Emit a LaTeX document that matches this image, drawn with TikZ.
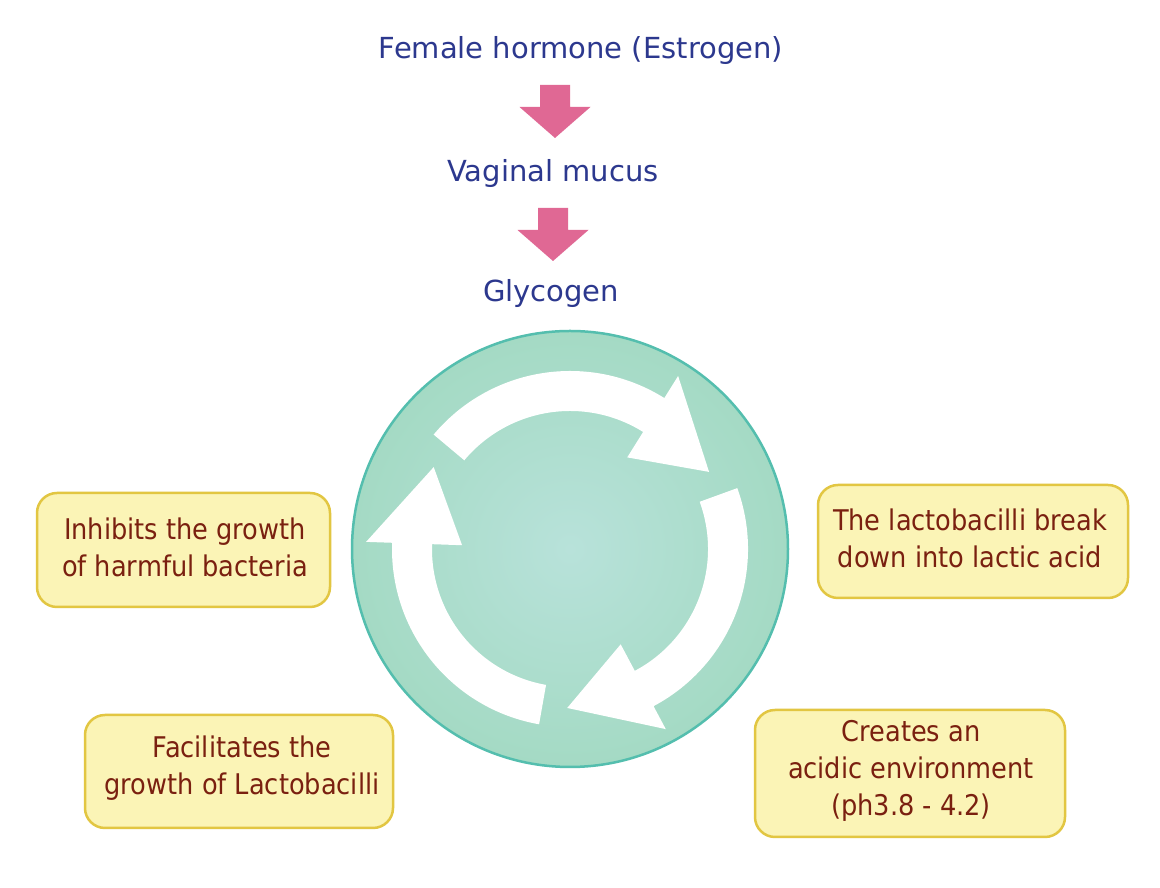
\documentclass[tikz,border=0pt]{standalone}
\usepackage{fontspec}
\setmainfont{DejaVu Sans}
\newfontfamily\boxfont[FakeStretch=0.9]{DejaVu Sans}
\usetikzlibrary{calc}
\definecolor{bluetxt}{RGB}{44,56,142}
\definecolor{browntxt}{RGB}{122,32,16}
\definecolor{pinkc}{RGB}{224,104,148}
\definecolor{boxf}{RGB}{251,244,182}
\definecolor{boxb}{RGB}{226,198,66}
\definecolor{tealf}{RGB}{164,218,196}
\definecolor{tealc}{RGB}{184,226,218}
\definecolor{tealb}{RGB}{84,190,174}
\tikzset{
  flowtxt/.style={anchor=base, text=bluetxt, inner sep=0pt, font=\fontsize{29}{34}\selectfont},
  infobox/.style={draw=boxb, fill=boxf, line width=2.5pt, rounded corners=20pt, align=center,
    text=browntxt, inner sep=0pt, font=\boxfont\fontsize{28.5}{37}\selectfont},
  boxtxt/.style={align=center, text=browntxt, inner sep=0pt, font=\boxfont\fontsize{28.5}{37}\selectfont},
  blockarrow/.style={fill=pinkc},
  cyclearrow/.style={fill=white}
}
\begin{document}
\begin{tikzpicture}[x=1pt,y=1pt]
\useasboundingbox (0,0) rectangle (1160,888);
\fill[white] (0,0) rectangle (1160,888);

% flow texts
\node[flowtxt] (fem) at (581,829) {Female hormone (Estrogen)};
\node[flowtxt] (vag) at (553,706) {Vaginal mucus};
\node[flowtxt] (gly) at (551,586) {Glycogen};

% pink block arrows
\coordinate (a1) at (555,803);
\coordinate (a2) at (553,680);
\foreach \a in {a1,a2}{
  \fill[blockarrow] (\a) ++(-15,0) -- ++(30,0) -- ++(0,-22) -- ++(20.5,0)
     -- ++(-35.5,-31) -- ++(-35.5,31) -- ++(20.5,0) -- cycle;
}

% cycle circle
\node[circle, minimum size=436pt, inner sep=0pt, draw=tealb, line width=2.5pt,
      inner color=tealc, outer color=tealf] (cyc) at (570,339) {};
\foreach \r in {0,120,240}{
  \fill[cyclearrow, shift={(cyc.center)}]
    (140-\r:178) arc[start angle=140-\r, end angle=58-\r, radius=178]
    -- (58-\r:204) -- (29-\r:159) -- (58-\r:108) -- (58-\r:138)
    arc[start angle=58-\r, end angle=140-\r, radius=138] -- cycle;
}

% boxes
\node[infobox, minimum width=293pt, minimum height=114pt] (b1) at (183.5,338) {};
\node[boxtxt] (t1) at (185,341) {Inhibits the growth\\of harmful bacteria};
\node[infobox, minimum width=310pt, minimum height=113pt] (b2) at (973,346.5) {};
\node[boxtxt] (t2) at (970,350) {The lactobacilli break\\down into lactic acid};
\node[infobox, minimum width=308pt, minimum height=113pt] (b3) at (239,116.5) {};
\node[boxtxt] (t3) at (242,120) {Facilitates the\\growth of Lactobacilli};
\node[infobox, minimum width=310pt, minimum height=127pt] (b4) at (910,114.5) {};
\node[boxtxt] (t4) at (911,117) {Creates an\\acidic environment\\(ph3.8 - 4.2)};
\end{tikzpicture}
\end{document}
